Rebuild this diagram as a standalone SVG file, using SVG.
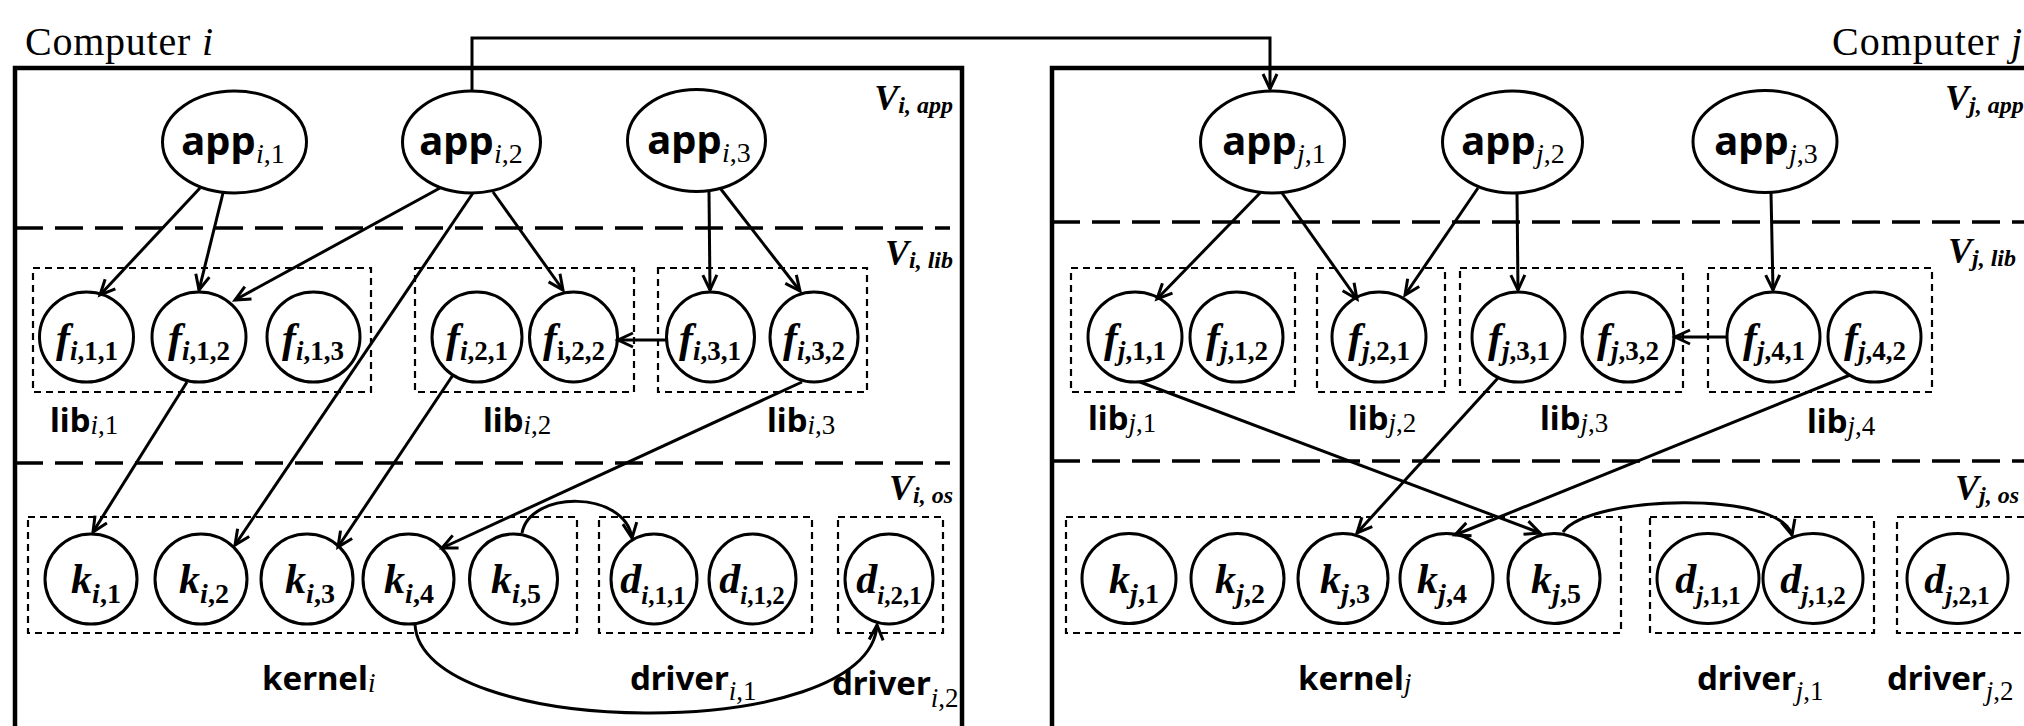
<svg xmlns="http://www.w3.org/2000/svg" width="2024" height="726" viewBox="0 0 2024 726">
  <defs>
    <style>
      .frame { fill: none; stroke: #000; stroke-width: 4.5; }
      .layer { fill: none; stroke: #000; stroke-width: 3.5; stroke-dasharray: 28 12; }
      .grp { fill: none; stroke: #000; stroke-width: 2.2; stroke-dasharray: 7 5; }
      .node { fill: #fff; stroke: #000; stroke-width: 3; }
      .edge { fill: none; stroke: #000; stroke-width: 3; marker-end: url(#arr); }
      .title { font-family: "Liberation Serif", "Times New Roman", serif; font-size: 40px; }
      .s { font-family: "Noto Sans", "DejaVu Sans", sans-serif; font-weight: 700; }
      .sub { font-family: "Liberation Serif", "Times New Roman", serif; font-weight: 400; }
      .fl { font-family: "Liberation Serif", "Times New Roman", serif; font-weight: 700; }
      .vl { font-family: "Liberation Serif", "Times New Roman", serif; font-weight: 700; font-style: italic; }
      .it { font-style: italic; }
    </style>
    <marker id="arr" viewBox="-20 -10 26 20" refX="0" refY="0" markerWidth="26" markerHeight="20" markerUnits="userSpaceOnUse" orient="auto">
      <path d="M-15,-7 L0,0 L-15,7" fill="none" stroke="#000" stroke-width="3"/>
    </marker>
  </defs>
  <rect width="2024" height="726" fill="#fff"/>

  <!-- computer frames and layer separators -->
  <g id="computer-i">
    <text class="title" x="25" y="55" textLength="188">Computer <tspan class="it">i</tspan></text>
    <rect class="frame" x="15" y="68" width="947" height="700"/>
    <line class="layer" x1="15" y1="228" x2="950" y2="228"/>
    <line class="layer" x1="15" y1="463" x2="950" y2="463"/>
    <text class="vl" x="953" y="110" text-anchor="end"><tspan font-size="36">V</tspan><tspan font-size="24" dy="3">i, app</tspan></text>
    <text class="vl" x="953" y="265" text-anchor="end"><tspan font-size="36">V</tspan><tspan font-size="24" dy="3">i, lib</tspan></text>
    <text class="vl" x="953" y="500" text-anchor="end"><tspan font-size="36">V</tspan><tspan font-size="24" dy="3">i, os</tspan></text>
  </g>
  <g id="computer-j">
    <text class="title" x="2022" y="55" text-anchor="end" textLength="190">Computer <tspan class="it">j</tspan></text>
    <rect class="frame" x="1052" y="68" width="1000" height="700"/>
    <line class="layer" x1="1052" y1="222" x2="2030" y2="222"/>
    <line class="layer" x1="1052" y1="461" x2="2030" y2="461"/>
    <text class="vl" x="1945" y="110"><tspan font-size="36">V</tspan><tspan font-size="24" dy="3">j, app</tspan></text>
    <text class="vl" x="1948" y="263"><tspan font-size="36">V</tspan><tspan font-size="24" dy="3">j, lib</tspan></text>
    <text class="vl" x="1955" y="500"><tspan font-size="36">V</tspan><tspan font-size="24" dy="3">j, os</tspan></text>
  </g>

  <!-- component groups (libraries, kernel, drivers) -->
  <g id="lib-i-1"><rect class="grp" x="33" y="268" width="338" height="124"/><text class="s" x="50" y="432" font-size="33">lib<tspan class="sub" font-size="27" dy="2"><tspan class="it">i</tspan>,1</tspan></text></g>
  <g id="lib-i-2"><rect class="grp" x="415" y="268" width="219" height="124"/><text class="s" x="483" y="432" font-size="33">lib<tspan class="sub" font-size="27" dy="2"><tspan class="it">i</tspan>,2</tspan></text></g>
  <g id="lib-i-3"><rect class="grp" x="658" y="268" width="209" height="124"/><text class="s" x="767" y="432" font-size="33">lib<tspan class="sub" font-size="27" dy="2"><tspan class="it">i</tspan>,3</tspan></text></g>
  <g id="kernel-i"><rect class="grp" x="28" y="517" width="549" height="116"/><text class="s" x="262" y="690" font-size="33">kernel<tspan class="sub it" font-size="27" dy="2">i</tspan></text></g>
  <g id="driver-i-1"><rect class="grp" x="599" y="517" width="213" height="116"/><text class="s" x="630" y="690" font-size="33">driver<tspan class="sub" font-size="27" dy="10"><tspan class="it">i</tspan>,1</tspan></text></g>
  <g id="driver-i-2"><rect class="grp" x="838" y="517" width="105" height="116"/><text class="s" x="832" y="695" font-size="33">driver<tspan class="sub" font-size="27" dy="12"><tspan class="it">i</tspan>,2</tspan></text></g>

  <g id="lib-j-1"><rect class="grp" x="1071" y="268" width="224" height="124"/><text class="s" x="1088" y="430" font-size="33">lib<tspan class="sub" font-size="27" dy="2"><tspan class="it">j</tspan>,1</tspan></text></g>
  <g id="lib-j-2"><rect class="grp" x="1317" y="268" width="128" height="124"/><text class="s" x="1348" y="430" font-size="33">lib<tspan class="sub" font-size="27" dy="2"><tspan class="it">j</tspan>,2</tspan></text></g>
  <g id="lib-j-3"><rect class="grp" x="1460" y="268" width="223" height="124"/><text class="s" x="1540" y="430" font-size="33">lib<tspan class="sub" font-size="27" dy="2"><tspan class="it">j</tspan>,3</tspan></text></g>
  <g id="lib-j-4"><rect class="grp" x="1708" y="268" width="224" height="124"/><text class="s" x="1807" y="433" font-size="33">lib<tspan class="sub" font-size="27" dy="2"><tspan class="it">j</tspan>,4</tspan></text></g>
  <g id="kernel-j"><rect class="grp" x="1066" y="517" width="555" height="116"/><text class="s" x="1298" y="690" font-size="33">kernel<tspan class="sub it" font-size="27" dy="2">j</tspan></text></g>
  <g id="driver-j-1"><rect class="grp" x="1650" y="517" width="224" height="116"/><text class="s" x="1697" y="690" font-size="33">driver<tspan class="sub" font-size="27" dy="10"><tspan class="it">j</tspan>,1</tspan></text></g>
  <g id="driver-j-2"><rect class="grp" x="1897" y="517" width="160" height="116"/><text class="s" x="1887" y="690" font-size="33">driver<tspan class="sub" font-size="27" dy="10"><tspan class="it">j</tspan>,2</tspan></text></g>

  <!-- application nodes -->
  <g id="app-i-1"><ellipse class="node" cx="234.5" cy="142" rx="72" ry="51"/><text class="s" x="233" y="155" text-anchor="middle" font-size="40">app<tspan class="sub" font-size="28" dy="8"><tspan class="it">i</tspan>,1</tspan></text></g>
  <g id="app-i-2"><ellipse class="node" cx="471.5" cy="142" rx="69" ry="51"/><text class="s" x="471" y="155" text-anchor="middle" font-size="40">app<tspan class="sub" font-size="28" dy="8"><tspan class="it">i</tspan>,2</tspan></text></g>
  <g id="app-i-3"><ellipse class="node" cx="696.5" cy="140.5" rx="69" ry="51"/><text class="s" x="699" y="154" text-anchor="middle" font-size="40">app<tspan class="sub" font-size="28" dy="8"><tspan class="it">i</tspan>,3</tspan></text></g>
  <g id="app-j-1"><ellipse class="node" cx="1272.5" cy="142" rx="72" ry="51"/><text class="s" x="1274" y="155" text-anchor="middle" font-size="40">app<tspan class="sub" font-size="28" dy="8"><tspan class="it">j</tspan>,1</tspan></text></g>
  <g id="app-j-2"><ellipse class="node" cx="1512.5" cy="142" rx="70" ry="51"/><text class="s" x="1513" y="155" text-anchor="middle" font-size="40">app<tspan class="sub" font-size="28" dy="8"><tspan class="it">j</tspan>,2</tspan></text></g>
  <g id="app-j-3"><ellipse class="node" cx="1765" cy="141.5" rx="72" ry="51"/><text class="s" x="1766" y="155" text-anchor="middle" font-size="40">app<tspan class="sub" font-size="28" dy="8"><tspan class="it">j</tspan>,3</tspan></text></g>

  <!-- library function nodes -->
  <g id="f-i-1-1"><ellipse class="node" cx="86.5" cy="337" rx="47" ry="45"/><text class="fl" x="87" y="352" text-anchor="middle"><tspan class="it" font-size="42">f</tspan><tspan font-size="27" dy="8"><tspan class="it">i</tspan>,1,1</tspan></text></g>
  <g id="f-i-1-2"><ellipse class="node" cx="199" cy="337" rx="47" ry="45"/><text class="fl" x="199" y="352" text-anchor="middle"><tspan class="it" font-size="42">f</tspan><tspan font-size="27" dy="8"><tspan class="it">i</tspan>,1,2</tspan></text></g>
  <g id="f-i-1-3"><ellipse class="node" cx="313.5" cy="337" rx="46.5" ry="45"/><text class="fl" x="313" y="352" text-anchor="middle"><tspan class="it" font-size="42">f</tspan><tspan font-size="27" dy="8"><tspan class="it">i</tspan>,1,3</tspan></text></g>
  <g id="f-i-2-1"><ellipse class="node" cx="477" cy="337" rx="45" ry="45"/><text class="fl" x="477" y="352" text-anchor="middle"><tspan class="it" font-size="42">f</tspan><tspan font-size="27" dy="8"><tspan class="it">i</tspan>,2,1</tspan></text></g>
  <g id="f-i-2-2"><ellipse class="node" cx="573.5" cy="337" rx="44" ry="45"/><text class="fl" x="574" y="352" text-anchor="middle"><tspan class="it" font-size="42">f</tspan><tspan font-size="27" dy="8">i,2,2</tspan></text></g>
  <g id="f-i-3-1"><ellipse class="node" cx="710.5" cy="337" rx="44" ry="45"/><text class="fl" x="710" y="352" text-anchor="middle"><tspan class="it" font-size="42">f</tspan><tspan font-size="27" dy="8"><tspan class="it">i</tspan>,3,1</tspan></text></g>
  <g id="f-i-3-2"><ellipse class="node" cx="814" cy="337" rx="44" ry="45"/><text class="fl" x="814" y="352" text-anchor="middle"><tspan class="it" font-size="42">f</tspan><tspan font-size="27" dy="8"><tspan class="it">i</tspan>,3,2</tspan></text></g>

  <g id="f-j-1-1"><ellipse class="node" cx="1135" cy="337" rx="47" ry="45"/><text class="fl" x="1135" y="352" text-anchor="middle"><tspan class="it" font-size="42">f</tspan><tspan font-size="27" dy="8"><tspan class="it">j</tspan>,1,1</tspan></text></g>
  <g id="f-j-1-2"><ellipse class="node" cx="1236.5" cy="337" rx="46.5" ry="45"/><text class="fl" x="1237" y="352" text-anchor="middle"><tspan class="it" font-size="42">f</tspan><tspan font-size="27" dy="8"><tspan class="it">j</tspan>,1,2</tspan></text></g>
  <g id="f-j-2-1"><ellipse class="node" cx="1379" cy="337" rx="47" ry="45"/><text class="fl" x="1379" y="352" text-anchor="middle"><tspan class="it" font-size="42">f</tspan><tspan font-size="27" dy="8"><tspan class="it">j</tspan>,2,1</tspan></text></g>
  <g id="f-j-3-1"><ellipse class="node" cx="1518.5" cy="337" rx="46.5" ry="45"/><text class="fl" x="1519" y="352" text-anchor="middle"><tspan class="it" font-size="42">f</tspan><tspan font-size="27" dy="8"><tspan class="it">j</tspan>,3,1</tspan></text></g>
  <g id="f-j-3-2"><ellipse class="node" cx="1628" cy="337" rx="46" ry="45"/><text class="fl" x="1628" y="352" text-anchor="middle"><tspan class="it" font-size="42">f</tspan><tspan font-size="27" dy="8"><tspan class="it">j</tspan>,3,2</tspan></text></g>
  <g id="f-j-4-1"><ellipse class="node" cx="1773.5" cy="337" rx="46.5" ry="45"/><text class="fl" x="1774" y="352" text-anchor="middle"><tspan class="it" font-size="42">f</tspan><tspan font-size="27" dy="8"><tspan class="it">j</tspan>,4,1</tspan></text></g>
  <g id="f-j-4-2"><ellipse class="node" cx="1874.5" cy="337" rx="46.5" ry="45"/><text class="fl" x="1875" y="352" text-anchor="middle"><tspan class="it" font-size="42">f</tspan><tspan font-size="27" dy="8"><tspan class="it">j</tspan>,4,2</tspan></text></g>

  <!-- kernel and driver nodes -->
  <g id="k-i-1"><ellipse class="node" cx="91" cy="579" rx="46" ry="45"/><text class="fl" x="96" y="593" text-anchor="middle"><tspan class="it" font-size="42">k</tspan><tspan font-size="28" dy="10"><tspan class="it">i</tspan>,1</tspan></text></g>
  <g id="k-i-2"><ellipse class="node" cx="201" cy="579" rx="46" ry="45"/><text class="fl" x="204" y="593" text-anchor="middle"><tspan class="it" font-size="42">k</tspan><tspan font-size="28" dy="10"><tspan class="it">i</tspan>,2</tspan></text></g>
  <g id="k-i-3"><ellipse class="node" cx="307" cy="579" rx="46" ry="45"/><text class="fl" x="310" y="593" text-anchor="middle"><tspan class="it" font-size="42">k</tspan><tspan font-size="28" dy="10"><tspan class="it">i</tspan>,3</tspan></text></g>
  <g id="k-i-4"><ellipse class="node" cx="408.5" cy="579" rx="45.5" ry="45"/><text class="fl" x="409" y="593" text-anchor="middle"><tspan class="it" font-size="42">k</tspan><tspan font-size="28" dy="10"><tspan class="it">i</tspan>,4</tspan></text></g>
  <g id="k-i-5"><ellipse class="node" cx="513.5" cy="579" rx="44" ry="45"/><text class="fl" x="516" y="593" text-anchor="middle"><tspan class="it" font-size="42">k</tspan><tspan font-size="28" dy="10"><tspan class="it">i</tspan>,5</tspan></text></g>
  <g id="d-i-1-1"><ellipse class="node" cx="654" cy="579" rx="43" ry="45"/><text class="fl" x="653" y="593" text-anchor="middle"><tspan class="it" font-size="42">d</tspan><tspan font-size="25" dy="11"><tspan class="it">i</tspan>,1,1</tspan></text></g>
  <g id="d-i-1-2"><ellipse class="node" cx="752.5" cy="579" rx="43.5" ry="45"/><text class="fl" x="752" y="593" text-anchor="middle"><tspan class="it" font-size="42">d</tspan><tspan font-size="25" dy="11"><tspan class="it">i</tspan>,1,2</tspan></text></g>
  <g id="d-i-2-1"><ellipse class="node" cx="889" cy="579" rx="44" ry="45"/><text class="fl" x="889" y="593" text-anchor="middle"><tspan class="it" font-size="42">d</tspan><tspan font-size="25" dy="11"><tspan class="it">i</tspan>,2,1</tspan></text></g>

  <g id="k-j-1"><ellipse class="node" cx="1129" cy="578.5" rx="47" ry="45"/><text class="fl" x="1134" y="593" text-anchor="middle"><tspan class="it" font-size="42">k</tspan><tspan font-size="28" dy="10"><tspan class="it">j</tspan>,1</tspan></text></g>
  <g id="k-j-2"><ellipse class="node" cx="1237.5" cy="578.5" rx="46.5" ry="45"/><text class="fl" x="1240" y="593" text-anchor="middle"><tspan class="it" font-size="42">k</tspan><tspan font-size="28" dy="10"><tspan class="it">j</tspan>,2</tspan></text></g>
  <g id="k-j-3"><ellipse class="node" cx="1343" cy="578.5" rx="45" ry="45"/><text class="fl" x="1345" y="593" text-anchor="middle"><tspan class="it" font-size="42">k</tspan><tspan font-size="28" dy="10"><tspan class="it">j</tspan>,3</tspan></text></g>
  <g id="k-j-4"><ellipse class="node" cx="1446.5" cy="578.5" rx="46.5" ry="45"/><text class="fl" x="1442" y="593" text-anchor="middle"><tspan class="it" font-size="42">k</tspan><tspan font-size="28" dy="10"><tspan class="it">j</tspan>,4</tspan></text></g>
  <g id="k-j-5"><ellipse class="node" cx="1554" cy="578.5" rx="46" ry="45"/><text class="fl" x="1556" y="593" text-anchor="middle"><tspan class="it" font-size="42">k</tspan><tspan font-size="28" dy="10"><tspan class="it">j</tspan>,5</tspan></text></g>
  <g id="d-j-1-1"><ellipse class="node" cx="1708" cy="578.5" rx="51" ry="45"/><text class="fl" x="1708" y="593" text-anchor="middle"><tspan class="it" font-size="42">d</tspan><tspan font-size="25" dy="11"><tspan class="it">j</tspan>,1,1</tspan></text></g>
  <g id="d-j-1-2"><ellipse class="node" cx="1813" cy="578.5" rx="50" ry="45"/><text class="fl" x="1813" y="593" text-anchor="middle"><tspan class="it" font-size="42">d</tspan><tspan font-size="25" dy="11"><tspan class="it">j</tspan>,1,2</tspan></text></g>
  <g id="d-j-2-1"><ellipse class="node" cx="1957.5" cy="578.5" rx="50.5" ry="45"/><text class="fl" x="1957" y="593" text-anchor="middle"><tspan class="it" font-size="42">d</tspan><tspan font-size="25" dy="11"><tspan class="it">j</tspan>,2,1</tspan></text></g>

  <!-- connectors -->
  <g id="connectors">
    <path class="edge" d="M472,91 V38 H1270 V89"/>
    <path class="edge" d="M200,188 L100,295"/>
    <path class="edge" d="M223,193 L199,290"/>
    <path class="edge" d="M440,188 L235,300"/>
    <path class="edge" d="M493,192 L563,290"/>
    <path class="edge" d="M473,193 L235,545"/>
    <path class="edge" d="M709,192 L710,290"/>
    <path class="edge" d="M720,188 L800,291"/>
    <path class="edge" d="M666,340 L618,340"/>
    <path class="edge" d="M187,382 L93,532"/>
    <path class="edge" d="M453,375 L338,547"/>
    <path class="edge" d="M802,382 L442,548"/>
    <path class="edge" d="M522,533 C530,490 625,490 632,538"/>
    <path class="edge" d="M415,624 C420,740 870,745 877,625"/>

    <path class="edge" d="M1260,193 L1157,299"/>
    <path class="edge" d="M1282,193 L1357,299"/>
    <path class="edge" d="M1478,188 L1405,295"/>
    <path class="edge" d="M1517,193 L1518,290"/>
    <path class="edge" d="M1771,193 L1773,290"/>
    <path class="edge" d="M1727,337 L1675,337"/>
    <path class="edge" d="M1140,382 L1540,533"/>
    <path class="edge" d="M1498,378 L1357,533"/>
    <path class="edge" d="M1850,375 L1455,535"/>
    <path class="edge" d="M1563,532 C1590,495 1780,490 1792,535"/>
  </g>
</svg>
